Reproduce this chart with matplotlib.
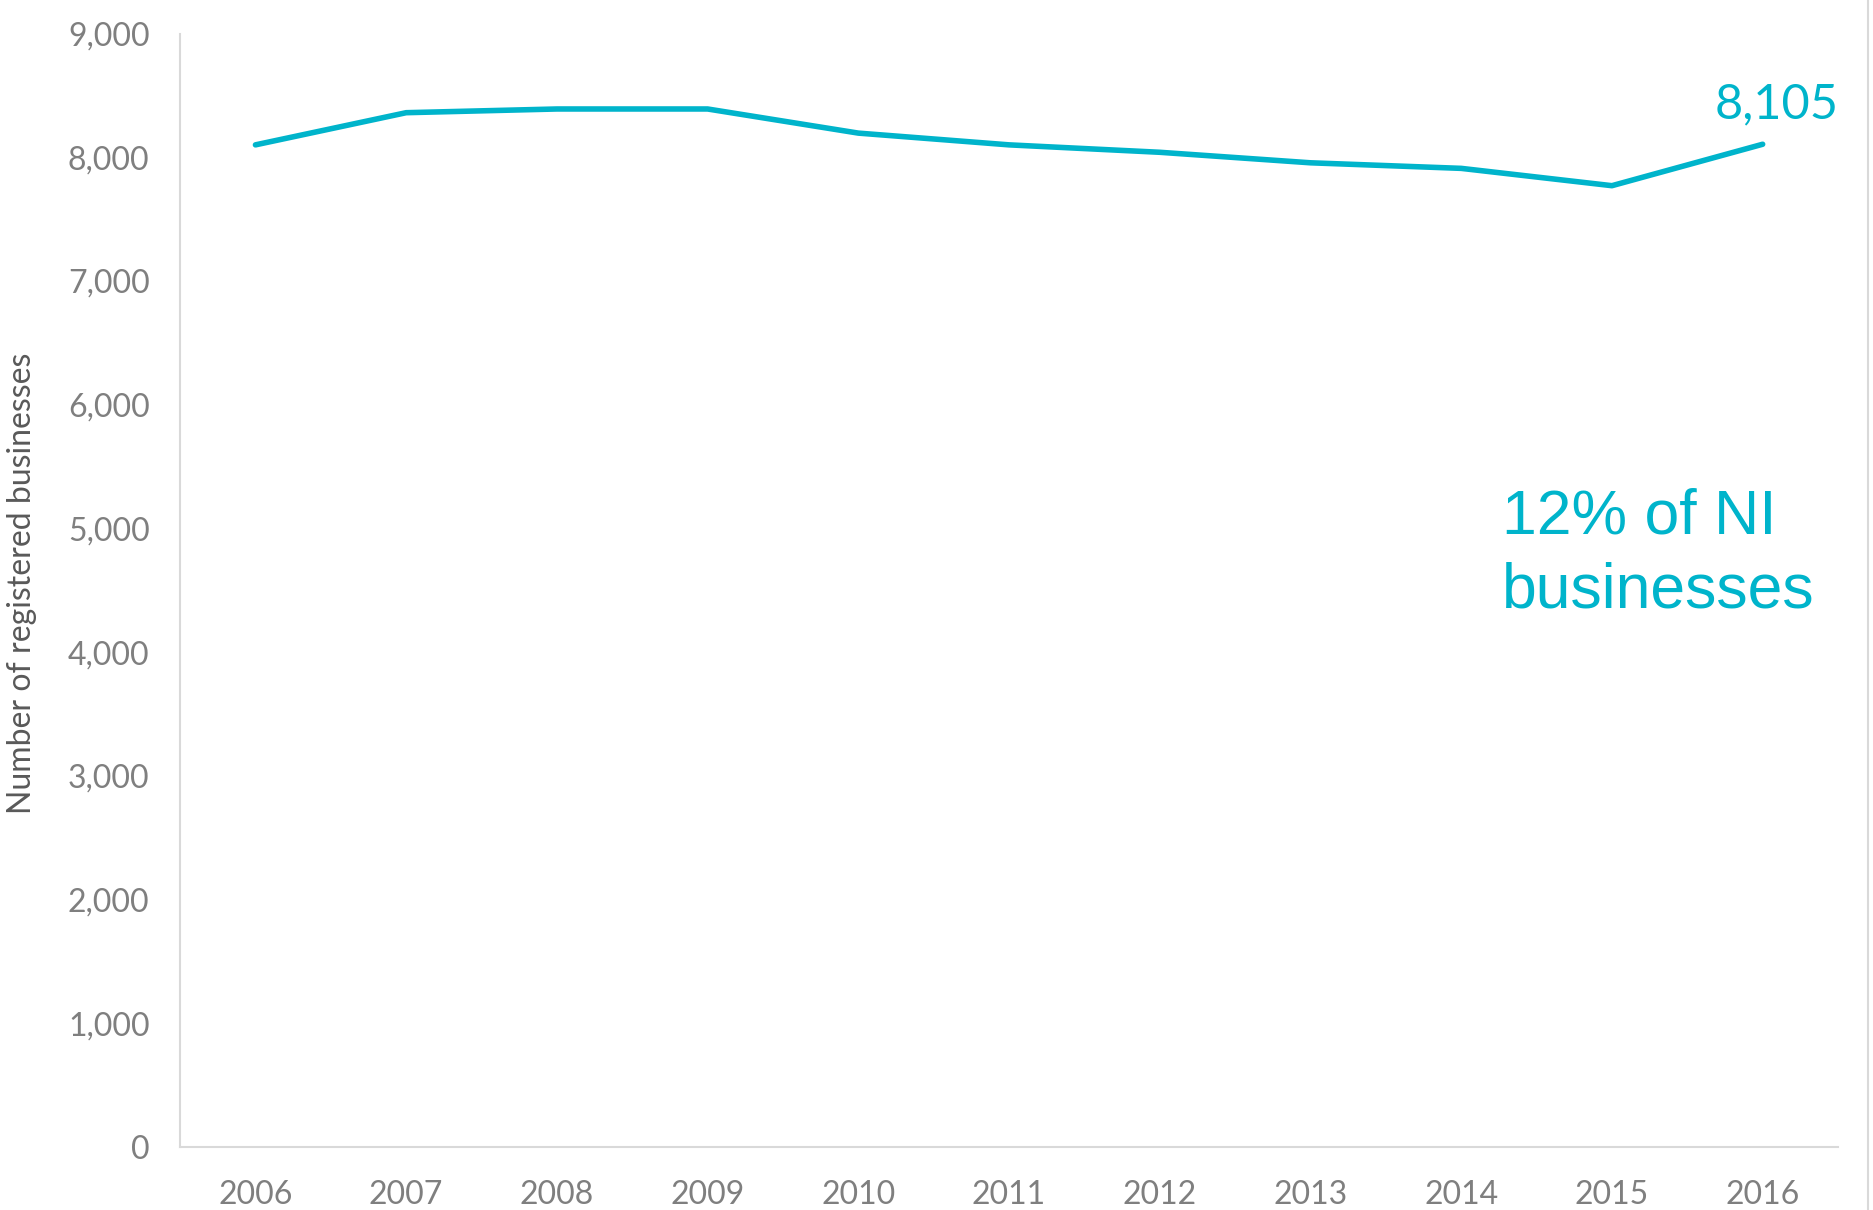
import matplotlib
matplotlib.use('Agg')
import matplotlib.pyplot as plt
from matplotlib.lines import Line2D
from matplotlib.ticker import FuncFormatter

years = ['2006', '2007', '2008', '2009', '2010', '2011', '2012', '2013', '2014', '2015', '2016']
businesses = [8100, 8360, 8390, 8390, 8195, 8100, 8040, 7955, 7910, 7770, 8105]
last_label = '8,105'
share_note = '12% of NI\nbusinesses'

teal = '#00B4CB'
grey = '#7F7F7F'

fig = plt.figure(figsize=(18.74, 12.10), dpi=100)
ax = fig.add_axes([0.0961, 0.0521, 0.9808 - 0.0961, 0.9723 - 0.0521])

x = list(range(len(years)))
ax.plot(x, businesses, color=teal, lw=4, solid_capstyle='round', solid_joinstyle='round')

ax.set_xlim(-0.5, 10.5)
ax.set_ylim(0, 9000)
ax.set_yticks(range(0, 9001, 1000))
ax.yaxis.set_major_formatter(FuncFormatter(lambda v, p: '{:,.0f}'.format(v)))
ax.set_xticks(x)
ax.set_xticklabels(years)

for s in ['top', 'right']:
    ax.spines[s].set_visible(False)
for s in ['left', 'bottom']:
    ax.spines[s].set_color('#D9D9D9')
    ax.spines[s].set_linewidth(1.5)

ax.tick_params(length=0, labelcolor=grey, labelsize=23)
ax.tick_params(axis='y', pad=22)
ax.tick_params(axis='x', pad=24)
for lab in ax.get_xticklabels() + ax.get_yticklabels():
    lab.set_family('Lato')

fig.text(22 / 1874, 1 - 583 / 1210, 'Number of registered businesses', rotation=90,
         ha='center', va='center', fontsize=23, color='#595959', family='Lato')

ax.annotate(last_label, (x[-1], businesses[-1]), xytext=(10, 29), textcoords='offset points',
            ha='center', va='center', fontsize=35, color=teal, family='Lato')

# va='baseline' lines up the last line of the block
ax.text(8.27, 4362, share_note, ha='left', va='baseline', fontsize=45, color=teal,
        family='Liberation Sans', linespacing=1.33)

fig.add_artist(Line2D([0.9968, 0.9968], [0, 1], transform=fig.transFigure, color='#D9D9D9', lw=1.5))

fig.savefig('out.png', dpi=100, facecolor='white')
